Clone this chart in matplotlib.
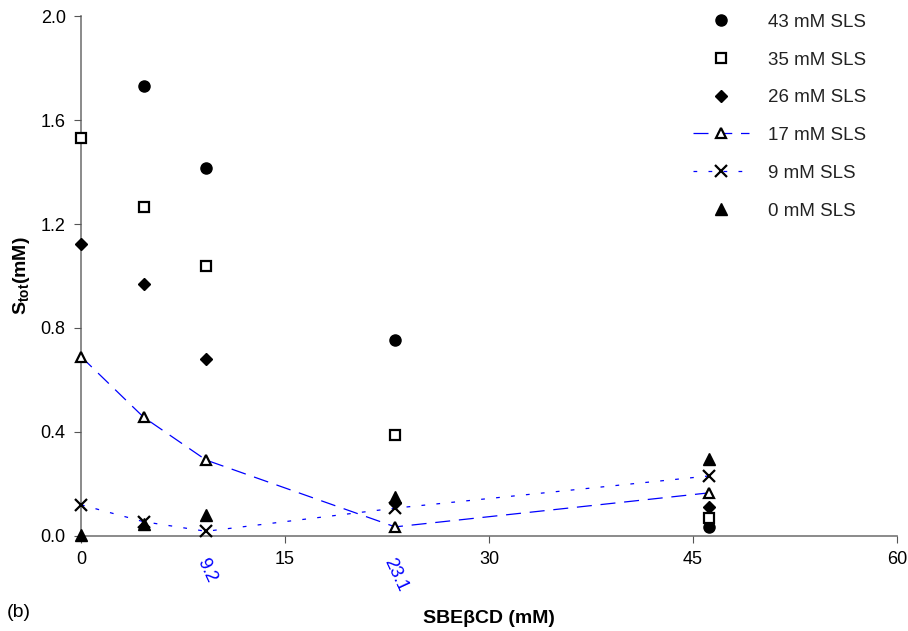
import matplotlib
matplotlib.use("Agg")
import matplotlib.pyplot as plt

plt.rcParams['font.family'] = ['Liberation Sans', 'DejaVu Sans']
plt.rcParams['mathtext.fontset'] = 'custom'
plt.rcParams['mathtext.rm'] = 'Liberation Sans'
plt.rcParams['mathtext.bf'] = 'Liberation Sans:bold'

# SBEbCD concentration (mM)
cd = [0, 4.6, 9.2, 23.1, 46.2]

# Stot (mM) for each SLS level
sls43 = [1.73, 1.414, 0.755, 0.035]      # starts at 4.6
sls35 = [1.53, 1.264, 1.037, 0.388, 0.071]
sls26 = [1.124, 0.971, 0.681, 0.125, 0.112]
sls17 = [0.69, 0.457, 0.292, 0.035, 0.166]
sls9 = [0.12, 0.055, 0.018, 0.107, 0.231]
sls0 = [0.005, 0.045, 0.08, 0.15, 0.296]

xticks = [0, 15, 30, 45, 60]
yticks = [0.0, 0.4, 0.8, 1.2, 1.6, 2.0]
extra_x = [9.2, 23.1]

fig = plt.figure(figsize=(9.08, 6.31), dpi=100)
ax = fig.add_axes([0.0892, 0.1506, 0.8986, 0.824])

kw = dict(clip_on=False, zorder=3)
ax.plot(cd[1:], sls43, 'o', color='black', ms=8, label='43 mM SLS', **kw)
ax.plot(cd, sls35, 's', mfc='white', mec='black', mew=1.6, ms=7.5, label='35 mM SLS', **kw)
ax.plot(cd, sls26, 'D', color='black', ms=6, label='26 mM SLS', **kw)
ax.plot(cd, sls17, '^', mfc='white', mec='black', mew=1.6, ms=7.5,
        color='#0000ff', lw=0.9, dashes=(12, 7), label='17 mM SLS', **kw)
ax.plot(cd, sls9, 'x', mec='black', mew=1.6, ms=8.5,
        color='#0000ff', lw=0.9, dashes=(3, 9), label='9 mM SLS', **kw)
ax.plot(cd, sls0, '^', color='black', ms=8.5, label='0 mM SLS', **kw)

ax.set_xlim(0, 60)
ax.set_ylim(0, 2.0)
ax.set_xticks(xticks)
ax.set_yticks(yticks)
ax.set_yticklabels(['%.1f' % v for v in yticks])
ax.tick_params(labelsize=13, length=5, color='#555555', pad=6)
ax.spines['top'].set_visible(False)
ax.spines['right'].set_visible(False)
for s in ['left', 'bottom']:
    ax.spines[s].set_color('#777777')
    ax.spines[s].set_linewidth(1.2)
    ax.spines[s].set_zorder(0)

for v in extra_x:
    ax.text(v, -0.075, str(v), color='#0000ff', fontsize=13, rotation=-65,
            ha='center', va='top')

ax.set_ylabel(r'$\mathbf{S_{tot}}$(mM)', fontsize=14, fontweight='bold', labelpad=6)
ax.set_xlabel('SBE\u03b2CD (mM)', fontsize=14, fontweight='bold', labelpad=30)
fig.text(0.007, 0.022, '(b)', fontsize=14)

leg = ax.legend(loc='upper right', bbox_to_anchor=(0.983, 1.037), frameon=False,
                fontsize=13.5, handlelength=3.0, handletextpad=1.0,
                labelspacing=1.1, numpoints=1)
for t in leg.get_texts():
    t.set_color('#222222')

fig.savefig('out.png', dpi=100)
